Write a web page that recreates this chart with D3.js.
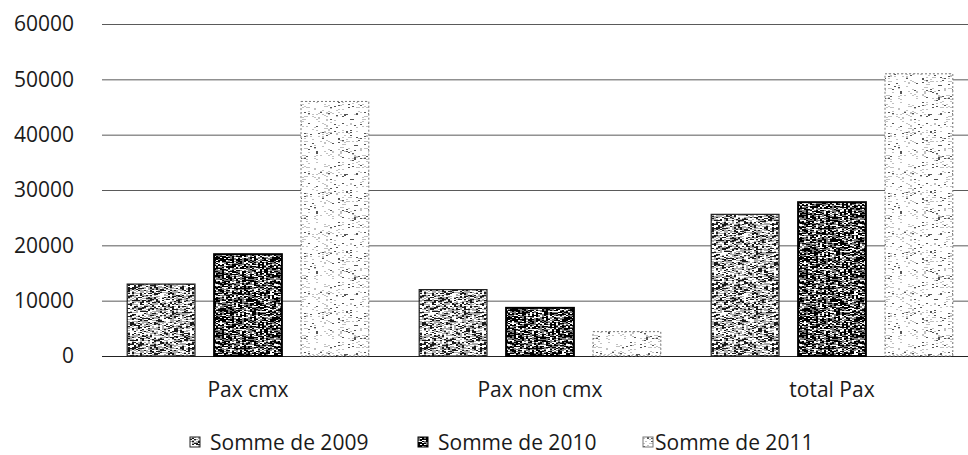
<!DOCTYPE html>
<html>
<head>
<meta charset="utf-8">
<script src="https://cdn.jsdelivr.net/npm/d3@7"></script>
<style>
  body { margin: 0; background: #fff; }
  svg text { font-family: "Open Sans", sans-serif; fill: #1a1a1a; }
</style>
</head>
<body>
<div id="chart"></div>
<script>
// chart values
const categories = ["Pax cmx", "Pax non cmx", "total Pax"];
const seriesNames = ["Somme de 2009", "Somme de 2010", "Somme de 2011"];
const values2009 = [13000, 12000, 25600];
const values2010 = [18400, 8700, 27800];
const values2011 = [46000, 4400, 51000];
const yTicks = [0, 10000, 20000, 30000, 40000, 50000, 60000];

const seriesValues = [values2009, values2010, values2011];

const W = 968, H = 455;
const margin = { top: 24, right: -10, bottom: 99, left: 102 };
const plotW = W - margin.left - margin.right;
const plotH = H - margin.top - margin.bottom;

const svg = d3.select("#chart").append("svg")
    .attr("width", W)
    .attr("height", H);

// scanned-look textures, one per series (deterministic integer hash, only a style)
function hash(i, seed) {
    let t = (i + seed * 1000003) | 0;
    t = Math.imul(t ^ (t >>> 16), 0x45d9f3b);
    t = Math.imul(t ^ (t >>> 16), 0x45d9f3b);
    t ^= t >>> 16;
    return (t >>> 0) / 4294967296;
}
const textures = [
    { id: "tex2009", base: "#acacac", black: 0.28, white: 0.36, dark: "#1a1a1a", seed: 11 },
    { id: "tex2010", base: "#7c7c7c", black: 0.46, white: 0.22, dark: "#000", seed: 23 },
    { id: "tex2011", base: "#ffffff", black: 0.045, white: 0.87, dark: "#555", seed: 37 }
];
const T = 60;
const defs = svg.append("defs");
textures.forEach(t => {
    const p = defs.append("pattern")
        .attr("id", t.id)
        .attr("patternUnits", "userSpaceOnUse")
        .attr("width", T).attr("height", T);
    p.append("rect").attr("width", T).attr("height", T).attr("fill", t.base);
    const cells = [];
    for (let r = 0; r < T; r++) {
        for (let c = 0; c < T / 2; c++) {
            const h = hash(r * 97 + c, t.seed);
            let col = null;
            if (h < t.black) col = t.dark;
            else if (h < t.black + t.white) col = "#fff";
            else if (t.base === "#ffffff") col = "#c2c2c2";
            if (col) cells.push({ x: c * 2, y: r, col });
        }
    }
    p.selectAll("rect.c").data(cells).enter().append("rect")
        .attr("class", "c")
        .attr("x", d => d.x).attr("y", d => d.y)
        .attr("width", 2).attr("height", 1)
        .attr("fill", d => d.col);
});

const g = svg.append("g").attr("transform", `translate(${margin.left},${margin.top})`);

// scales
const x0 = d3.scaleBand().domain(categories).range([0, plotW]);
const x1 = d3.scaleBand().domain(seriesNames).range([0, x0.bandwidth()])
    .paddingInner(0.22).paddingOuter(0.29);
const y = d3.scaleLinear().domain([0, 60000]).range([plotH, 0]);

// y axis with gridlines
const yAxis = g.append("g")
    .call(d3.axisLeft(y).tickValues(yTicks).tickSize(-plotW).tickPadding(28).tickFormat(d3.format("d")));
yAxis.select(".domain").remove();
yAxis.selectAll(".tick line")
    .attr("stroke", d => d === 0 ? "#222" : "#5a5a5a")
    .attr("stroke-width", 1);
yAxis.selectAll(".tick text")
    .style("font-size", "21px")
    .attr("fill", "#1a1a1a");

// bars
const strokes = [
    { stroke: "#222", width: 1.2, dash: null },
    { stroke: "#000", width: 2, dash: null },
    { stroke: "#777", width: 1, dash: "2,2" }
];
const groups = g.selectAll("g.cat")
    .data(categories)
    .enter().append("g")
    .attr("class", "cat")
    .attr("transform", d => `translate(${x0(d)},0)`);

groups.selectAll("rect")
    .data((d, i) => seriesNames.map((s, k) => ({ series: s, k, value: seriesValues[k][i] })))
    .enter().append("rect")
    .attr("x", d => x1(d.series))
    .attr("width", x1.bandwidth())
    .attr("y", d => y(d.value))
    .attr("height", d => plotH - y(d.value))
    .attr("fill", d => `url(#${textures[d.k].id})`)
    .attr("stroke", d => strokes[d.k].stroke)
    .attr("stroke-width", d => strokes[d.k].width)
    .attr("stroke-dasharray", d => strokes[d.k].dash);

// category labels
const xAxis = g.append("g")
    .attr("transform", `translate(0,${plotH})`)
    .call(d3.axisBottom(x0).tickSize(0).tickPadding(26));
xAxis.select(".domain").remove();
xAxis.selectAll(".tick text")
    .style("font-size", "21px")
    .attr("fill", "#1a1a1a");

// legend
const legendX = [190, 418, 643];
const legend = svg.append("g").attr("transform", "translate(0,450)");
const items = legend.selectAll("g")
    .data(seriesNames)
    .enter().append("g")
    .attr("transform", (d, i) => `translate(${legendX[i]},0)`);
items.append("rect")
    .attr("x", 0).attr("y", -13)
    .attr("width", 10).attr("height", 10)
    .attr("fill", (d, i) => `url(#${textures[i].id})`)
    .attr("stroke", (d, i) => strokes[i].stroke)
    .attr("stroke-width", 1);
items.append("text")
    .attr("x", (d, i) => i === 2 ? 12 : 20)
    .attr("y", 0)
    .style("font-size", "21px")
    .text(d => d);
</script>
</body>
</html>
